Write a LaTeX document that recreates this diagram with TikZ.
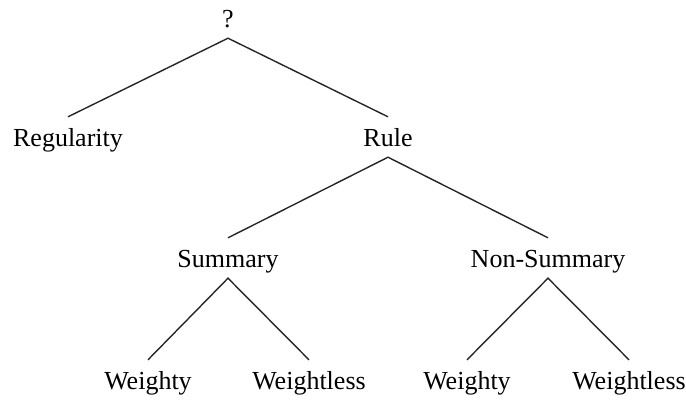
\documentclass[tikz,border=0pt]{standalone}
\usepackage{fontspec}
\setmainfont{Liberation Serif}
\begin{document}
\begin{tikzpicture}[x=1pt,y=-1pt,
  lbl/.style={inner sep=0pt,anchor=base,text height=29pt,text depth=11pt,
    font=\fontsize{26}{30}\selectfont},
  edge/.style={line width=1.4pt,black!85}]
\useasboundingbox (0,0) rectangle (686,400);
\node[lbl] (q) at (228,27) {?};
\node[lbl] (reg) at (68,146) {Regularity};
\node[lbl] (rule) at (388,146) {Rule};
\node[lbl] (sum) at (228,267) {Summary};
\node[lbl] (nsum) at (548,267) {Non-Summary};
\node[lbl] (w1) at (148,389) {Weighty};
\node[lbl] (w2) at (309,389) {Weightless};
\node[lbl] (w3) at (467,389) {Weighty};
\node[lbl] (w4) at (629,389) {Weightless};
\draw[edge] (reg.north) -- (q.south) -- (rule.north);
\draw[edge] (sum.north) -- (rule.south) -- (nsum.north);
\draw[edge] (w1.north) -- (sum.south) -- (w2.north);
\draw[edge] (w3.north) -- (nsum.south) -- (w4.north);
\end{tikzpicture}
\end{document}
